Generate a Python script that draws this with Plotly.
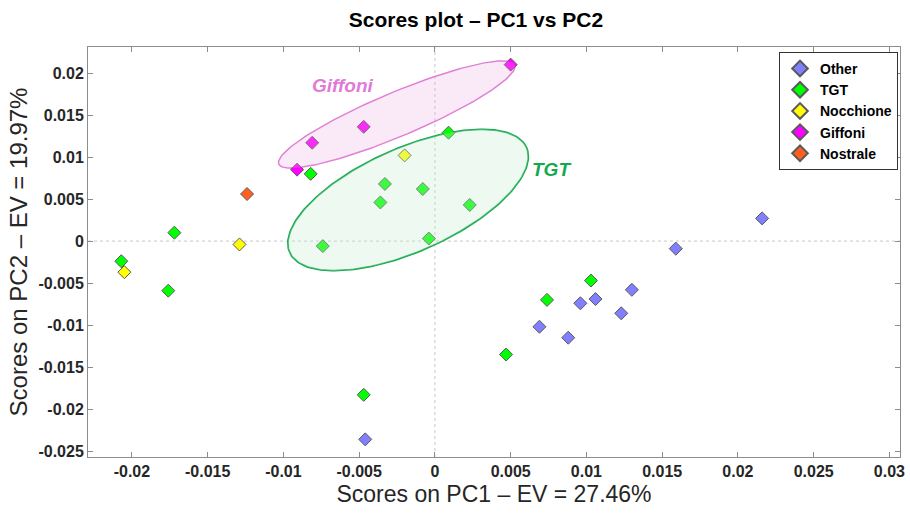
import numpy as np
import plotly.graph_objects as go

# PCA scores per group (PC1, PC2)
other_pc1 = [0.0216, 0.0159, 0.0130, 0.0106, 0.0096, 0.0123, 0.0069, 0.0088, -0.0046]
other_pc2 = [0.0027, -0.0009, -0.0058, -0.0069, -0.0074, -0.0086, -0.0102, -0.0115, -0.0236]

tgt_pc1 = [0.0009, -0.0082, -0.0033, -0.0008, -0.0036, 0.0023, -0.0004, -0.0074,
           -0.0172, -0.0207, -0.0176, 0.0103, 0.0074, 0.0047, -0.0047]
tgt_pc2 = [0.0129, 0.0080, 0.0068, 0.0062, 0.0046, 0.0043, 0.0003, -0.0006,
           0.0010, -0.0024, -0.0059, -0.0047, -0.0070, -0.0135, -0.0183]

nocchione_pc1 = [-0.0020, -0.0129, -0.0205]
nocchione_pc2 = [0.0102, -0.0004, -0.0037]

giffoni_pc1 = [0.0050, -0.0047, -0.0081, -0.0091]
giffoni_pc2 = [0.0210, 0.0136, 0.0117, 0.0085]

nostrale_pc1 = [-0.0124]
nostrale_pc2 = [0.0056]

# Group ellipses: centre and the two conjugate semi-axis vectors (data units)
giffoni_ell = {"c": (-0.00252, 0.01507), "u": (0.00779, 0.00590), "v": (-0.00055, 0.00242)}
tgt_ell = {"c": (-0.00177, 0.00489), "u": (0.00782, 0.00623), "v": (-0.00136, 0.00565)}

x_ticks = [-0.02, -0.015, -0.01, -0.005, 0, 0.005, 0.01, 0.015, 0.02, 0.025, 0.03]
x_tick_text = ["-0.02", "-0.015", "-0.01", "-0.005", "0", "0.005", "0.01", "0.015", "0.02", "0.025", "0.03"]
y_ticks = [-0.025, -0.02, -0.015, -0.01, -0.005, 0, 0.005, 0.01, 0.015, 0.02]
y_tick_text = ["-0.025", "-0.02", "-0.015", "-0.01", "-0.005", "0", "0.005", "0.01", "0.015", "0.02"]

groups = [
    ("Other", other_pc1, other_pc2, "#8080ff"),
    ("TGT", tgt_pc1, tgt_pc2, "#00ff00"),
    ("Nocchione", nocchione_pc1, nocchione_pc2, "#ffff00"),
    ("Giffoni", giffoni_pc1, giffoni_pc2, "#ff00ff"),
    ("Nostrale", nostrale_pc1, nostrale_pc2, "#ff6020"),
]


def ellipse_path(e, n=200):
    t = np.linspace(0, 2 * np.pi, n)
    cx, cy = e["c"]
    ux, uy = e["u"]
    vx, vy = e["v"]
    return cx + ux * np.cos(t) + vx * np.sin(t), cy + uy * np.cos(t) + vy * np.sin(t)


FONT = "Liberation Sans, Arial, sans-serif"
fig = go.Figure()

gx, gy = ellipse_path(giffoni_ell)
tx, ty = ellipse_path(tgt_ell)

# ellipse outlines beneath the markers
fig.add_trace(go.Scatter(x=gx, y=gy, mode="lines", line=dict(color="#e07ad6", width=1.5),
                         showlegend=False, hoverinfo="skip"))
fig.add_trace(go.Scatter(x=tx, y=ty, mode="lines", line=dict(color="#16a84e", width=1.8),
                         showlegend=False, hoverinfo="skip"))

for name, xs, ys, col in groups:
    fig.add_trace(go.Scatter(
        x=xs, y=ys, mode="markers", name=name,
        marker=dict(symbol="diamond", size=10, color=col,
                    line=dict(color="#5a5a5a", width=1)),
    ))

# translucent ellipse fills over the markers
fig.add_trace(go.Scatter(x=gx, y=gy, mode="lines", fill="toself",
                         fillcolor="rgba(235,170,225,0.25)", line=dict(width=0),
                         showlegend=False, hoverinfo="skip"))
fig.add_trace(go.Scatter(x=tx, y=ty, mode="lines", fill="toself",
                         fillcolor="rgba(200,238,210,0.3)", line=dict(width=0),
                         showlegend=False, hoverinfo="skip"))

axis_common = dict(
    showgrid=False, zeroline=False, showline=True, linecolor="#8c8c8c", linewidth=1,
    mirror="ticks", ticks="inside", ticklen=5, tickcolor="#8c8c8c",
    ticklabeloverflow="allow",
    tickfont=dict(family=FONT, size=16, color="#262626", weight="bold"),
)

fig.update_layout(
    width=910, height=515,
    margin=dict(l=88, r=5, t=47, b=58),
    paper_bgcolor="white", plot_bgcolor="white",
    title=dict(text="<b>Scores plot – PC1 vs PC2</b>", xref="container", x=0.523,
               xanchor="center", yref="container", y=0.961, yanchor="middle",
               font=dict(family=FONT, size=21, color="black")),
    xaxis=dict(range=[-0.0229, 0.0307], tickvals=x_ticks, ticktext=x_tick_text,
               title=dict(text="Scores on PC1 – EV = 27.46%", standoff=6,
                          font=dict(family=FONT, size=23, color="#262626")),
               **axis_common),
    yaxis=dict(range=[-0.0257, 0.0231], tickvals=y_ticks, ticktext=y_tick_text,
               title=dict(text="Scores on PC2 – EV = 19.97%", standoff=4,
                          font=dict(family=FONT, size=24, color="#262626")),
               **axis_common),
    legend=dict(x=0.851, y=0.988, xanchor="left", yanchor="top",
                bgcolor="white", bordercolor="#333333", borderwidth=1,
                font=dict(family=FONT, size=14, color="black", weight="bold"),
                tracegroupgap=0, itemsizing="constant"),
    shapes=[
        dict(type="line", xref="x", yref="paper", x0=0, x1=0, y0=0, y1=1,
             line=dict(color="#c8c8c8", width=1, dash="dot"), layer="below"),
        dict(type="line", xref="paper", yref="y", x0=0, x1=1, y0=0, y1=0,
             line=dict(color="#c8c8c8", width=1, dash="dot"), layer="below"),
    ],
    annotations=[
        dict(text="<b><i>Giffoni</i></b>", x=-0.0061, y=0.0185, xref="x", yref="y",
             showarrow=False, font=dict(family=FONT, size=19, color="#e07ad6")),
        dict(text="<b><i>TGT</i></b>", x=0.0077, y=0.0085, xref="x", yref="y",
             showarrow=False, font=dict(family=FONT, size=19, color="#16a84e")),
    ],
)

fig.write_html("out.html")
